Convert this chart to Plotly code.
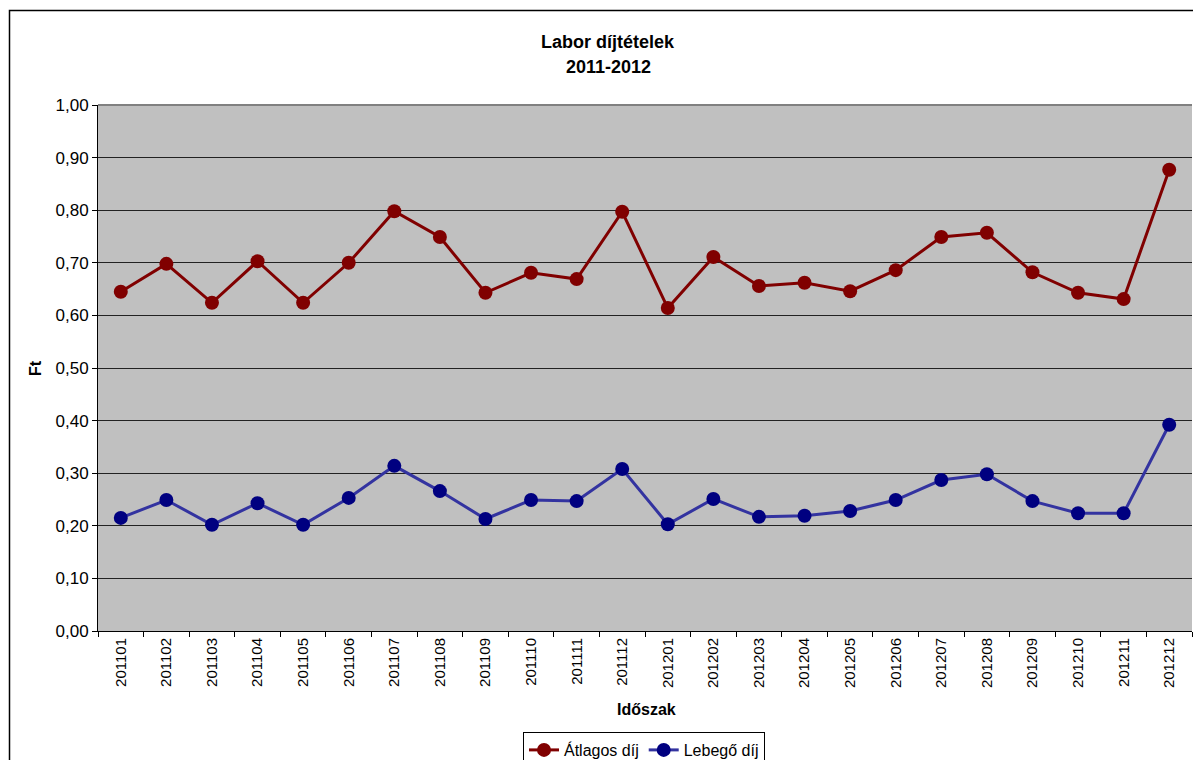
import plotly.graph_objects as go

periods = ["201101", "201102", "201103", "201104", "201105", "201106", "201107", "201108",
           "201109", "201110", "201111", "201112", "201201", "201202", "201203", "201204",
           "201205", "201206", "201207", "201208", "201209", "201210", "201211", "201212"]
atlagos = [0.645, 0.698, 0.624, 0.703, 0.624, 0.700, 0.798, 0.749,
           0.643, 0.681, 0.669, 0.797, 0.614, 0.711, 0.656, 0.662,
           0.646, 0.686, 0.749, 0.757, 0.682, 0.643, 0.631, 0.877]
lebego = [0.215, 0.249, 0.202, 0.243, 0.202, 0.253, 0.314, 0.266,
          0.213, 0.249, 0.247, 0.308, 0.203, 0.251, 0.217, 0.219,
          0.228, 0.249, 0.287, 0.298, 0.247, 0.224, 0.224, 0.392]
y_ticks = [0.0, 0.1, 0.2, 0.3, 0.4, 0.5, 0.6, 0.7, 0.8, 0.9, 1.0]

W, H = 1193, 760
L, R, T, B = 98, 1, 105, 129
pw, ph = W - L - R, H - T - B


def px_x(x):
    return (x - L) / pw


def px_y(y):
    return (H - B - y) / ph


FONT = "Liberation Sans, Arial, sans-serif"


def label(text, x, y, size, angle=0):
    # free-standing text placed by its centre, in pixel coordinates of the page
    return dict(text=text, x=px_x(x), y=px_y(y), xref="paper", yref="paper",
                xanchor="center", yanchor="middle", showarrow=False,
                textangle=angle, font=dict(family=FONT, size=size))


fig = go.Figure()
fig.add_trace(go.Scatter(
    x=periods, y=atlagos, name="Átlagos díj", mode="lines+markers",
    line=dict(color="#800000", width=3),
    marker=dict(color="#800000", size=14),
))
fig.add_trace(go.Scatter(
    x=periods, y=lebego, name="Lebegő díj", mode="lines+markers",
    line=dict(color="#3333A0", width=3),
    marker=dict(color="#000080", size=14),
))

fig.update_layout(
    width=W, height=H,
    margin=dict(l=L, r=R, t=T, b=B, autoexpand=False),
    paper_bgcolor="white",
    plot_bgcolor="#C0C0C0",
    separators=", ",
    font=dict(family=FONT, size=16, color="black"),
    showlegend=True,
    legend=dict(
        orientation="h", x=px_x(644), xanchor="center", y=px_y(732), yanchor="top",
        bordercolor="black", borderwidth=1, bgcolor="white",
        font=dict(family=FONT, size=16), tracegroupgap=0,
    ),
    xaxis=dict(
        type="category", range=[-0.5, 23.5], automargin=False,
        showgrid=False, showline=True, linecolor="black", linewidth=1,
        ticks="outside", ticklen=5, tickcolor="black", tickson="boundaries",
        tickangle=-90, tickfont=dict(family=FONT, size=15),
    ),
    yaxis=dict(
        range=[0, 1.0], tickvals=y_ticks, tickformat=".2f", automargin=False,
        showgrid=True, gridcolor="#222222", gridwidth=1,
        showline=True, linecolor="black", linewidth=1,
        ticks="outside", ticklen=5, tickcolor="black",
        tickfont=dict(family=FONT, size=17), zeroline=False,
    ),
    annotations=[
        label("<b>Labor díjtételek</b>", 608, 42, 18),
        label("<b>2011-2012</b>", 608, 67, 18),
        label("<b>Ft</b>", 35, 368, 16, angle=-90),
        label("<b>Időszak</b>", 646, 709, 16),
    ],
    shapes=[
        dict(type="rect", xref="paper", yref="paper",
             x0=px_x(9.5), x1=px_x(1210), y0=px_y(10.5), y1=px_y(800),
             line=dict(color="black", width=1.5), fillcolor="rgba(0,0,0,0)", layer="below"),
        dict(type="line", xref="paper", yref="paper", x0=0, x1=1, y0=1, y1=1,
             line=dict(color="#808080", width=2)),
    ],
)

fig.write_html("out.html")
